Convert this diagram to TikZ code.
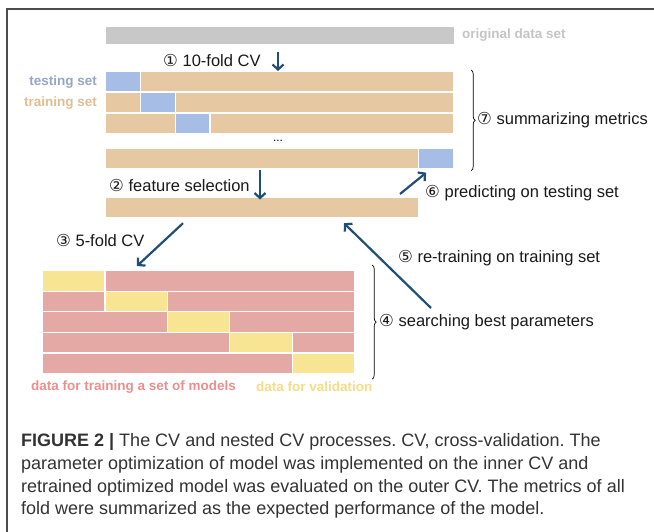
\documentclass[tikz,border=0pt]{standalone}
\usepackage{fontspec}
\setmainfont{Liberation Sans}
\newfontfamily\circfont{DejaVu Sans}
\usetikzlibrary{arrows.meta,decorations.pathreplacing}
\definecolor{origgray}{HTML}{C8C8C8}
\definecolor{traintan}{HTML}{E6C9A3}
\definecolor{testblue}{HTML}{A6BEE6}
\definecolor{trainpink}{HTML}{E5A9A5}
\definecolor{valyellow}{HTML}{F7E594}
\definecolor{flowblue}{HTML}{1F4E79}
\newcommand{\cn}[1]{{\circfont #1}}
\frenchspacing

\begin{document}
\begin{tikzpicture}[x=1pt, y=-1pt,
    bar/.style={draw=white, line width=1.2pt, anchor=north west, inner sep=0pt, minimum height=20.5pt},
    lbl/.style={anchor=west, inner sep=0pt, text=black!90, font=\fontsize{16.5}{19}\selectfont},
    key/.style={inner sep=0pt, font=\fontsize{13.5}{16}\selectfont\bfseries},
    capline/.style={anchor=base west, inner sep=0pt, text=black!80, font=\fontsize{18}{23}\selectfont},
    flow/.style={draw=flowblue, line width=2.2pt, -{Straight Barb[length=5pt,width=11pt]}},
    curly/.style={decorate, decoration={brace, amplitude=4pt}, line width=0.7pt}]
    \useasboundingbox (0,0) rectangle (654,532);
    \draw[black!70, line width=1.2pt] (654,9) -- (7,9) -- (7,532);

    % outer CV
    \node[bar, fill=origgray, draw=none, minimum height=17pt, minimum width=348pt] (orig) at (105,26) {};
    \node[key, anchor=west, text=black!23] (origlbl) at (462,35) {original data set};

    \node[bar, fill=traintan, minimum width=348pt] (row1) at (105,71) {};
    \node[bar, fill=traintan, minimum width=348pt] (row2) at (105,92) {};
    \node[bar, fill=traintan, minimum width=348pt] (row3) at (105,113) {};
    \node[bar, fill=traintan, minimum width=348pt] (row4) at (105,148) {};
    \node[bar, fill=testblue, minimum width=34.8pt] (test1) at (105,71) {};
    \node[bar, fill=testblue, minimum width=34.8pt] (test2) at (139.8,92) {};
    \node[bar, fill=testblue, minimum width=34.8pt] (test3) at (174.6,113) {};
    \node[bar, fill=testblue, minimum width=34.8pt] (test4) at (418.2,148) {};
    \node[inner sep=0pt, font=\fontsize{12}{14}\selectfont] (dots) at (278,141) {...};

    \node[key, anchor=east, text=testblue!85!black!95] (testlbl) at (97,82) {testing set};
    \node[key, anchor=east, text=traintan!85!brown] (trainlbl) at (97,103) {training set};

    \node[lbl] (step1) at (163,60) {\cn{①} 10-fold CV};
    \coordinate (cvtop) at (278,52);
    \draw[flow] (cvtop) -- (cvtop |- row1.north);

    \draw[curly] ([xshift=17pt,yshift=1pt]row1.north east) -- ([xshift=17pt,yshift=-1pt]row4.south east);
    \node[lbl] (step7) at (477,120) {\cn{⑦} summarizing metrics};

    % feature selection
    \node[bar, fill=traintan, minimum width=313.2pt] (feat) at (105,196.5) {};
    \node[lbl] (step2) at (109,185) {\cn{②} feature selection};
    \coordinate (fstop) at (260,170);
    \draw[flow] (fstop) -- ([yshift=-3pt]fstop |- feat.north);

    \coordinate (predfrom) at (400,194);
    \draw[flow] (predfrom) -- ([shift={(8,3)}]test4.south west);
    \node[lbl] (step6) at (425,193) {\cn{⑥} predicting on testing set};

    % inner CV
    \node[bar, fill=trainpink, minimum width=312pt] (prow1) at (42,270) {};
    \node[bar, fill=trainpink, minimum width=312pt] (prow2) at (42,290.6) {};
    \node[bar, fill=trainpink, minimum width=312pt] (prow3) at (42,311.2) {};
    \node[bar, fill=trainpink, minimum width=312pt] (prow4) at (42,331.8) {};
    \node[bar, fill=trainpink, minimum width=312pt] (prow5) at (42,352.4) {};
    \node[bar, fill=valyellow, minimum width=62.4pt] (val1) at (42,270) {};
    \node[bar, fill=valyellow, minimum width=62.4pt] (val2) at (104.4,290.6) {};
    \node[bar, fill=valyellow, minimum width=62.4pt] (val3) at (166.8,311.2) {};
    \node[bar, fill=valyellow, minimum width=62.4pt] (val4) at (229.2,331.8) {};
    \node[bar, fill=valyellow, minimum width=62.4pt] (val5) at (291.6,352.4) {};

    \draw[flow] ([shift={(78,5)}]feat.south west) -- ([shift={(95,-4)}]prow1.north west);
    \node[lbl] (step3) at (56,240) {\cn{③} 5-fold CV};

    \coordinate (retrain) at (431,308);
    \draw[flow] (retrain) -- ([shift={(239,5)}]feat.south west);
    \node[lbl] (step5) at (398,258) {\cn{⑤} re-training on training set};

    \draw[curly] ([xshift=17pt,yshift=5pt]prow1.north east) -- ([xshift=17pt,yshift=-5pt]prow5.south east);
    \node[lbl] (step4) at (379,322) {\cn{④} searching best parameters};

    \node[key, anchor=west, text=trainpink!85!red] (pinklbl) at (31,387) {data for training a set of models};
    \node[key, anchor=west, text=valyellow!90!orange] (yellowlbl) at (256,387) {data for validation};

    % caption
    \node[capline] (cap1) at (21,446) {\textbf{FIGURE 2 |} The CV and nested CV processes. CV, cross-validation. The};
    \node[capline] (cap2) at (21,469) {parameter optimization of model was implemented on the inner CV and};
    \node[capline] (cap3) at (21,492) {retrained optimized model was evaluated on the outer CV. The metrics of all};
    \node[capline] (cap4) at (21,514) {fold were summarized as the expected performance of the model.};
\end{tikzpicture}
\end{document}
